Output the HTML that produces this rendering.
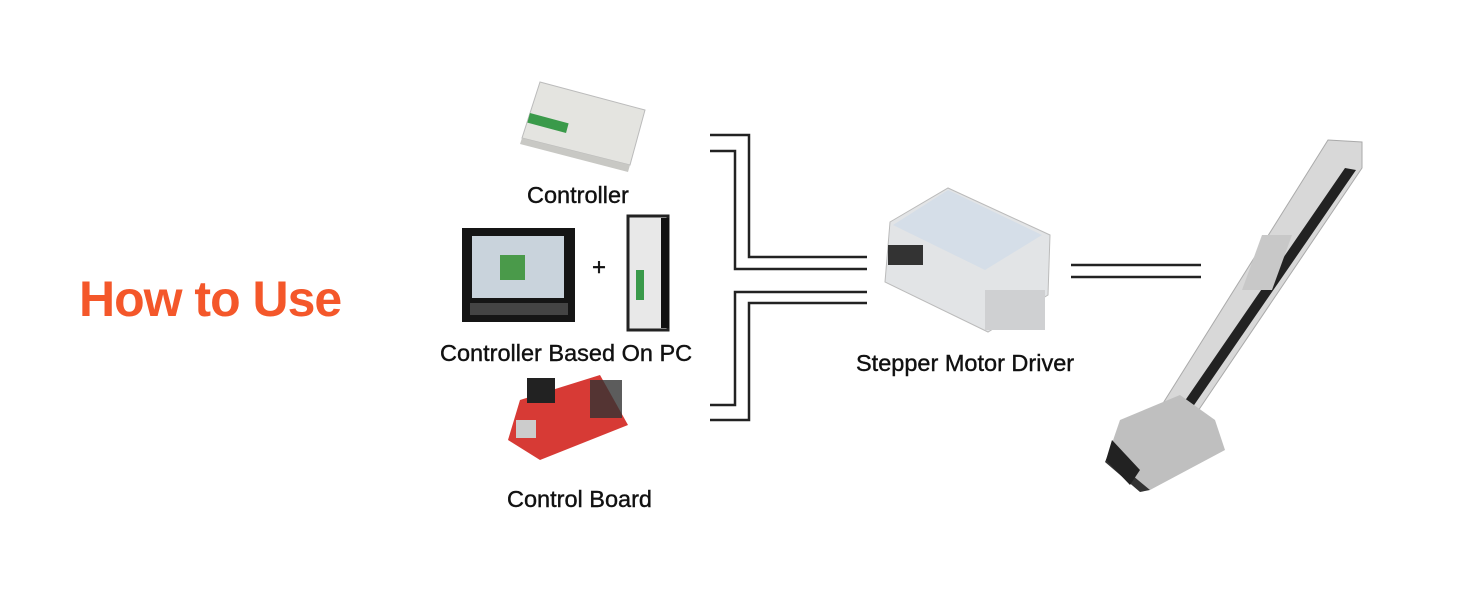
<!DOCTYPE html>
<html><head><meta charset="utf-8"><style>
html,body{margin:0;padding:0;background:#fff;}
body{width:1464px;height:600px;position:relative;overflow:hidden;font-family:"Liberation Sans",sans-serif;}
.t{position:absolute;color:#111;font-size:23.5px;white-space:nowrap;-webkit-text-stroke:0.4px #111;}
</style></head><body>
<div style="position:absolute;left:79px;top:270px;font-size:50px;font-weight:bold;color:#f4572a;letter-spacing:-1px;">How to Use</div>
<div class="t" style="left:527px;top:182px;">Controller</div>
<div class="t" style="left:440px;top:340px;">Controller Based On PC</div>
<div class="t" style="left:507px;top:486px;">Control Board</div>
<div class="t" style="left:856px;top:350px;">Stepper Motor Driver</div>
<div class="t" style="left:592px;top:254px;font-size:24px;">+</div>
<svg width="1464" height="600" style="position:absolute;left:0;top:0">
<g fill="none" stroke="#222" stroke-width="2.5">
<polyline points="710,135 749,135 749,257 867,257"/>
<polyline points="710,151 735,151 735,269 867,269"/>
<polyline points="867,292 735,292 735,405 710,405"/>
<polyline points="867,303 749,303 749,420 710,420"/>
<line x1="1071" y1="265" x2="1201" y2="265"/>
<line x1="1071" y1="277" x2="1201" y2="277"/>
</g>
<!-- controller -->
<polygon points="540,82 645,110 630,165 522,138" fill="#e4e4e0" stroke="#bbb"/>
<polygon points="522,138 630,165 628,172 520,144" fill="#c8c8c4"/>
<rect x="528" y="118" width="40" height="10" fill="#3a9a4a" transform="rotate(15 548 123)"/>
<!-- screen -->
<rect x="462" y="228" width="113" height="94" fill="#151515"/>
<rect x="472" y="236" width="92" height="62" fill="#c9d3dc"/>
<rect x="500" y="255" width="25" height="25" fill="#4a9a4a"/>
<rect x="470" y="303" width="98" height="12" fill="#444"/>
<!-- PC unit -->
<rect x="628" y="216" width="40" height="114" fill="#e8e8e8" stroke="#222" stroke-width="3"/>
<rect x="661" y="218" width="8" height="110" fill="#111"/>
<rect x="636" y="270" width="8" height="30" fill="#3a9a4a"/>
<!-- board -->
<polygon points="520,400 600,375 628,425 540,460 508,440" fill="#d73a35"/>
<rect x="527" y="378" width="28" height="25" fill="#222"/>
<rect x="590" y="380" width="32" height="38" fill="#333" opacity=".8"/>
<rect x="516" y="420" width="20" height="18" fill="#ccc"/>
<!-- driver -->
<polygon points="890,222 948,188 1050,235 1048,295 988,332 885,282" fill="#e2e4e6" stroke="#bbb"/>
<polygon points="948,190 1042,235 985,270 893,225" fill="#d5dee8"/>
<rect x="888" y="245" width="35" height="20" fill="#333"/>
<rect x="985" y="290" width="60" height="40" fill="#cfd0d2"/>
<!-- rail -->
<polygon points="1328,140 1362,142 1362,168 1175,445 1140,440" fill="#d8d8d8" stroke="#aaa"/>
<polygon points="1345,168 1356,170 1170,440 1160,437" fill="#222"/>
<polygon points="1262,235 1292,235 1272,290 1242,290" fill="#c8c8c8"/>
<polygon points="1120,420 1180,395 1215,420 1225,450 1150,490 1108,455" fill="#bfbfbf"/>
<polygon points="1108,455 1150,490 1140,492 1105,462" fill="#333"/>
<polygon points="1112,440 1140,470 1130,485 1106,460" fill="#222"/>
</svg>
</body></html>
